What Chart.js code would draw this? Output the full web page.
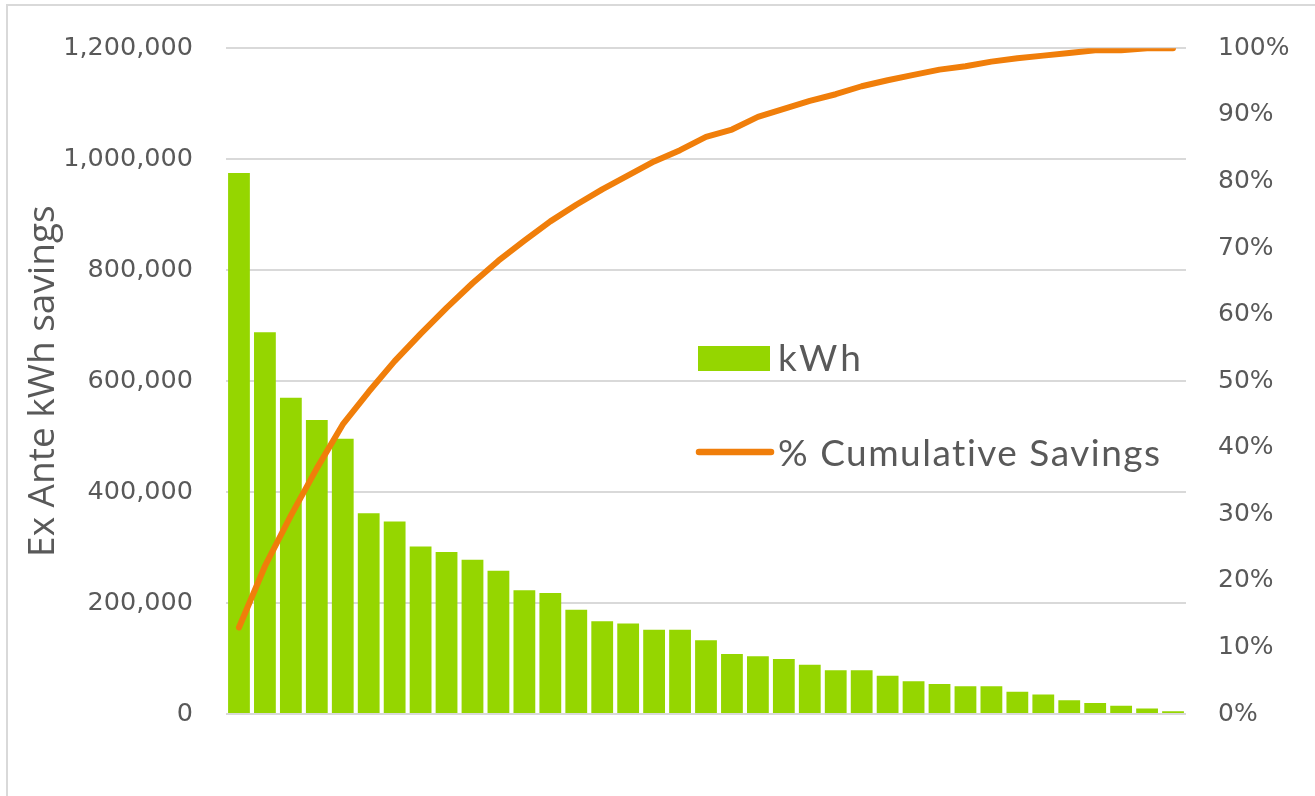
<!DOCTYPE html>
<html>
<head>
<meta charset="utf-8">
<script src="https://cdn.jsdelivr.net/npm/chart.js@4"></script>
<style>
  html, body { margin: 0; padding: 0; background: #ffffff; }
  #wrap { width: 1315px; height: 796px; }
</style>
</head>
<body>
<div id="wrap"><canvas id="c" width="1315" height="796"></canvas></div>
<script>
// Measures ranked by ex ante savings
const categories = ['1','2','3','4','5','6','7','8','9','10','11','12','13','14','15','16','17','18','19',
  '20','21','22','23','24','25','26','27','28','29','30','31','32','33','34','35','36','37'];

// Ex ante kWh savings per measure
const kwhSavings = [975000, 688000, 570000, 530000, 496000, 362000, 347000, 302000, 292000, 278000,
  258000, 223000, 218000, 188000, 167000, 163000, 152000, 152000, 133000, 108000,
  104000, 99000, 89000, 79000, 79000, 69000, 59000, 54000, 50000, 50000,
  40000, 35000, 25000, 20000, 15000, 10000, 5000];

// Cumulative share of savings (%)
const cumulativePct = [13.0, 22.2, 29.8, 36.9, 43.5, 48.4, 53.0, 57.1, 61.0, 64.7,
  68.1, 71.1, 74.0, 76.5, 78.8, 80.9, 83.0, 84.7, 86.7, 87.8,
  89.7, 90.9, 92.1, 93.1, 94.3, 95.2, 96.0, 96.8, 97.3, 98.0,
  98.5, 98.9, 99.3, 99.7, 99.7, 100, 100];

// Axis tick settings
const kwhTicks = { min: 0, max: 1200000, step: 200000 };
const pctTicks = { min: 0, max: 100, step: 10 };

const seriesNames = ['kWh', '% Cumulative Savings'];
const axisTitle = 'Ex Ante kWh savings';

const GREEN = '#95d600';
const ORANGE = '#f07e0a';
const TEXT = '#595959';
const GRID = '#d9d9d9';

// Outer frame of the chart object
const framePlugin = {
  id: 'frame',
  beforeDraw(chart) {
    const ctx = chart.ctx;
    ctx.save();
    ctx.fillStyle = '#ffffff';
    ctx.fillRect(0, 0, chart.width, chart.height);
    ctx.strokeStyle = GRID;
    ctx.lineWidth = 2;
    ctx.beginPath();
    ctx.moveTo(7, chart.height + 2);
    ctx.lineTo(7, 5);
    ctx.lineTo(chart.width + 2, 5);
    ctx.stroke();
    ctx.restore();
  }
};

// Legend drawn inside the plot area
const insideLegend = {
  id: 'insideLegend',
  afterDraw(chart) {
    const ctx = chart.ctx;
    const ds = chart.data.datasets;
    ctx.save();
    ctx.font = '37px Lato';
    ctx.textBaseline = 'alphabetic';
    ctx.textAlign = 'left';

    ctx.fillStyle = ds[0].backgroundColor;
    ctx.fillRect(698, 346, 72, 25);
    ctx.fillStyle = TEXT;
    ctx.letterSpacing = '3px';
    ctx.fillText(ds[0].label, 778, 371);

    ctx.strokeStyle = ds[1].borderColor;
    ctx.lineWidth = 6.5;
    ctx.lineCap = 'round';
    ctx.beginPath();
    ctx.moveTo(699, 452);
    ctx.lineTo(771, 452);
    ctx.stroke();
    ctx.letterSpacing = '1.5px';
    ctx.fillText(ds[1].label, 778, 466);
    ctx.restore();
  }
};

new Chart(document.getElementById('c'), {
  data: {
    labels: categories,
    datasets: [
      {
        type: 'bar',
        label: seriesNames[0],
        data: kwhSavings,
        backgroundColor: GREEN,
        borderWidth: 0,
        barPercentage: 0.84,
        categoryPercentage: 1.0,
        yAxisID: 'y',
        order: 2
      },
      {
        type: 'line',
        label: seriesNames[1],
        data: cumulativePct,
        borderColor: ORANGE,
        backgroundColor: ORANGE,
        borderWidth: 6,
        borderJoinStyle: 'round',
        borderCapStyle: 'round',
        pointRadius: 0,
        tension: 0,
        yAxisID: 'y2',
        order: 1
      }
    ]
  },
  options: {
    responsive: false,
    animation: false,
    devicePixelRatio: 1,
    layout: { padding: { left: 0, right: 0, top: 47, bottom: 82 } },
    plugins: {
      legend: { display: false },
      tooltip: { enabled: false }
    },
    scales: {
      x: {
        display: false,
        offset: true,
        grid: { display: false }
      },
      y: {
        position: 'left',
        min: kwhTicks.min,
        max: kwhTicks.max,
        afterFit(scale) { scale.width = 226; },
        ticks: {
          stepSize: kwhTicks.step,
          padding: 33,
          color: TEXT,
          font: { family: 'DejaVu Sans', size: 25.5 },
          callback: v => v.toLocaleString('en-US')
        },
        grid: { color: GRID, lineWidth: 2, drawTicks: false },
        border: { display: false },
        title: {
          display: true,
          text: axisTitle,
          color: TEXT,
          font: { family: 'Open Sans', size: 37 },
          padding: { top: 21, bottom: 0 }
        }
      },
      y2: {
        position: 'right',
        min: pctTicks.min,
        max: pctTicks.max,
        afterFit(scale) { scale.width = 1315 - 1186; },
        ticks: {
          stepSize: pctTicks.step,
          padding: 32,
          color: TEXT,
          font: { family: 'DejaVu Sans', size: 25 },
          callback: v => v + '%'
        },
        grid: { display: false, drawTicks: false },
        border: { display: false }
      }
    }
  },
  plugins: [framePlugin, insideLegend]
});
</script>
</body>
</html>
